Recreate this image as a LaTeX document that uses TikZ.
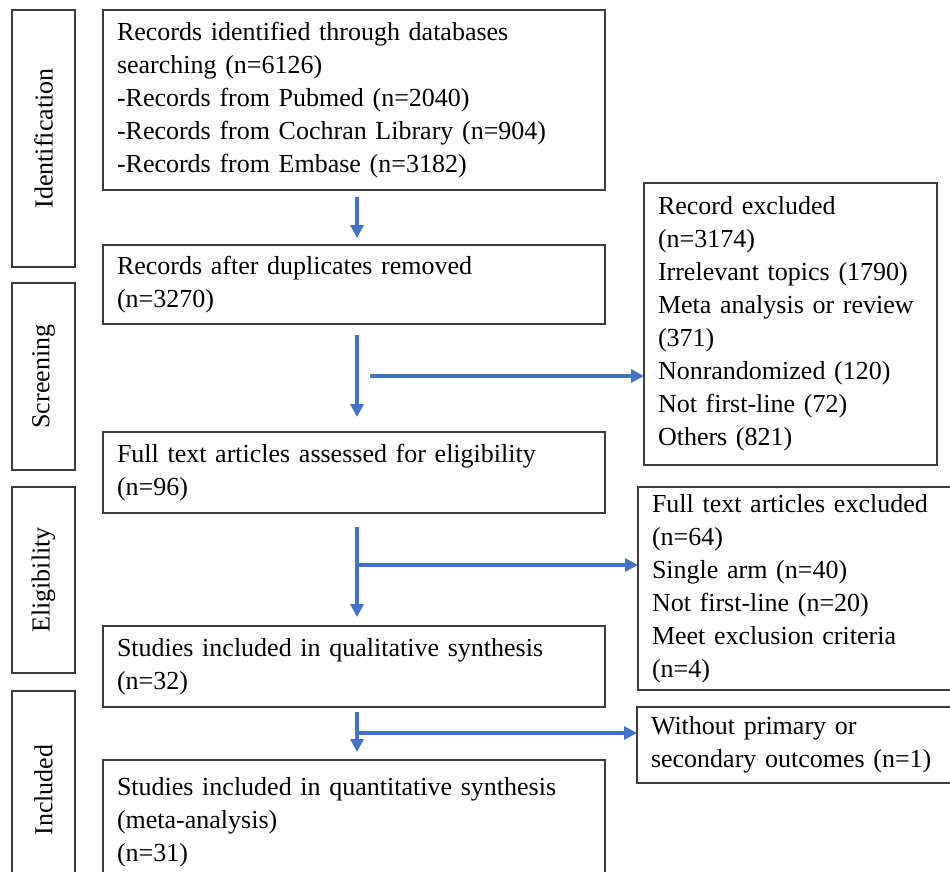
\documentclass[tikz,border=0pt]{standalone}
\usepackage{fontspec}
\setmainfont{Liberation Serif}
\definecolor{flowblue}{RGB}{68, 114, 196}
\definecolor{boxgray}{RGB}{60, 60, 60}
\usetikzlibrary{arrows.meta}

\begin{document}
\begin{tikzpicture}[x=1pt, y=-1pt,
    box/.style={draw=boxgray, line width=1.4pt, outer sep=0pt, inner xsep=14pt, inner ysep=0pt,
        align=left, anchor=north west, font=\fontsize{26}{33}\selectfont},
    mainbox/.style={box, text width=474pt},
    stagebox/.style={draw=boxgray, line width=1.4pt, outer sep=0pt, inner sep=0pt, rotate=90,
        minimum height=63pt, font=\fontsize{26}{33}\selectfont},
    flow/.style={draw=flowblue, line width=3.2pt, -{Triangle[length=13pt, width=13pt]}}]
    \useasboundingbox (0,0) rectangle (950,872);
    \clip (0,0) rectangle (950,872);
    % Stage labels
    \node[stagebox, minimum width=257pt] (ident) at (43.5,138.5) {Identification};
    \node[stagebox, minimum width=187pt] (screen) at (43.5,376.5) {Screening};
    \node[stagebox, minimum width=186pt] (elig) at (43.5,580) {Eligibility};
    \node[stagebox, minimum width=198pt] (incl) at (43.5,790) {Included};
    % Main flow
    \node[mainbox, minimum height=180pt] (rec) at (103,10) {Records identified through databases\\ searching (n=6126)\\ -Records from Pubmed (n=2040)\\ -Records from Cochran Library (n=904)\\ -Records from Embase (n=3182)};
    \node[mainbox, minimum height=79pt] (dup) at (103,245) {Records after duplicates removed\\ (n=3270)};
    \node[mainbox, minimum height=81pt] (full) at (103,432) {Full text articles assessed for eligibility\\ (n=96)};
    \node[mainbox, minimum height=81pt] (qual) at (103,626) {Studies included in qualitative synthesis\\ (n=32)};
    \node[mainbox, minimum height=125pt] (quant) at (103,760) {Studies included in quantitative synthesis\\ (meta-analysis)\\ (n=31)};
    % Exclusions
    \node[box, text width=265pt, minimum height=282pt] (exrec) at (644,183) {Record excluded\\ (n=3174)\\ Irrelevant topics (1790)\\ Meta analysis or review\\ (371)\\ Nonrandomized (120)\\ Not first-line (72)\\ Others (821)};
    \node[box, text width=302pt, minimum height=203pt] (exfull) at (638,487) {Full text articles excluded\\ (n=64)\\ Single arm (n=40)\\ Not first-line (n=20)\\ Meet exclusion criteria\\ (n=4)};
    \node[box, text width=302pt, minimum height=76pt] (exout) at (637,707) {Without primary or\\ secondary outcomes (n=1)};
    % Arrows
    \draw[flow] ([xshift=3pt, yshift=-7pt]rec.south) -- ([xshift=3pt, yshift=7pt]dup.north);
    \draw[flow] ([xshift=3pt, yshift=-11pt]dup.south) -- ([xshift=3pt, yshift=15pt]full.north);
    \draw[flow] ([xshift=3pt, yshift=-14pt]full.south) -- ([xshift=3pt, yshift=9pt]qual.north);
    \draw[flow] ([xshift=3pt, yshift=-5pt]qual.south) -- ([xshift=3pt, yshift=8pt]quant.north);
    \coordinate (br1) at (370,376);
    \coordinate (br2) at (357,565);
    \coordinate (br3) at (357,733);
    \draw[flow] (br1) -- (br1 -| exrec.west);
    \draw[flow] (br2) -- (br2 -| exfull.west);
    \draw[flow] (br3) -- (br3 -| exout.west);
\end{tikzpicture}
\end{document}
